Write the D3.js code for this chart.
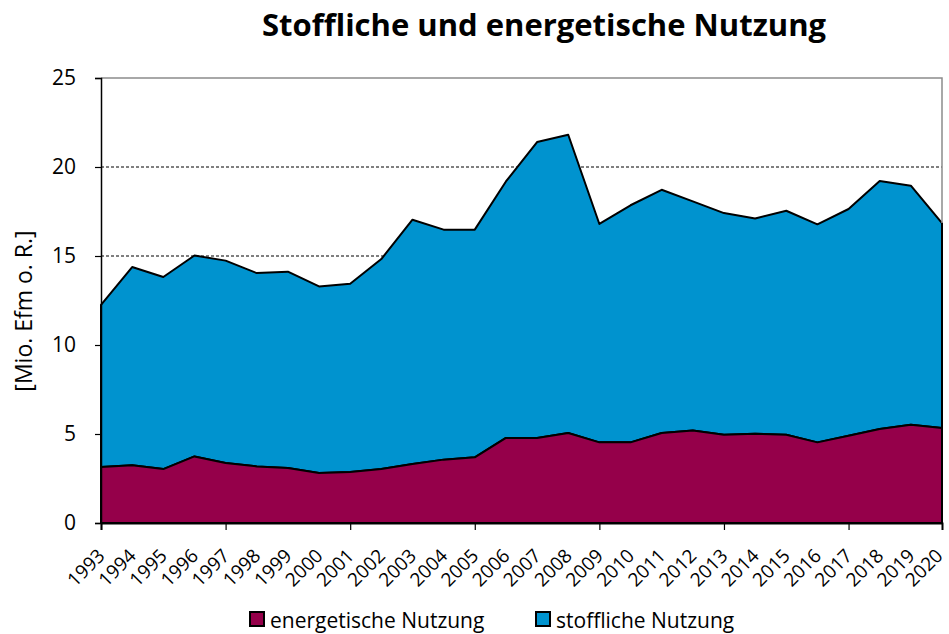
<html>
<head>
<meta http-equiv="Content-Type" content="text/html; charset=UTF-8">
<title>Stoffliche und energetische Nutzung</title>
<style>
body { margin: 0; background: #fff; }
text { font-family: "Open Sans", sans-serif; fill: #000; }
.area_path { stroke: #000; stroke-width: 2; stroke-linejoin: round; }
.grid_line { stroke: #000; stroke-width: 1; stroke-dasharray: 3,2; }
</style>
</head>
<body>
<div id="chart"></div>
<script src="https://d3js.org/d3.v7.min.js"></script>
<script>
// Jahre (Kategorien)
var years = [1993, 1994, 1995, 1996, 1997, 1998, 1999, 2000, 2001, 2002,
             2003, 2004, 2005, 2006, 2007, 2008, 2009, 2010, 2011, 2012,
             2013, 2014, 2015, 2016, 2017, 2018, 2019, 2020];

// Mio. Efm o. R.
var energetisch = [3.15, 3.24, 3.03, 3.74, 3.37, 3.18, 3.09, 2.81, 2.87, 3.03,
                   3.31, 3.56, 3.69, 4.78, 4.78, 5.06, 4.53, 4.53, 5.06, 5.20,
                   4.96, 5.02, 4.96, 4.53, 4.90, 5.28, 5.52, 5.34];
var stofflich   = [9.11, 11.14, 10.79, 11.29, 11.37, 10.86, 11.03, 10.48, 10.57, 11.80,
                   13.73, 12.92, 12.79, 14.41, 16.62, 16.75, 12.27, 13.32, 13.66, 12.87,
                   12.45, 12.09, 12.58, 12.25, 12.74, 13.93, 13.43, 11.51];

var seriesNames = ["energetische Nutzung", "stoffliche Nutzung"];
var seriesColors = ["#95004A", "#0093CF"];
var yTicks = [0, 5, 10, 15, 20, 25];
var majorYears = [1993, 1997, 2001, 2005, 2009, 2013, 2017];
var gridValues = [5, 10, 15, 20];

var width = 949, height = 634;
var plotLeft = 101, plotRight = 942, plotTop = 78, plotBottom = 523;

var svg = d3.select("#chart").append("svg")
    .attr("width", width)
    .attr("height", height);

var x = d3.scaleLinear().domain([1993, 2020]).range([plotLeft, plotRight]);
var y = d3.scaleLinear().domain([0, 25]).range([plotBottom, plotTop]);

var table = years.map(function(yr, i) {
    return { year: yr, e: energetisch[i], s: stofflich[i] };
});
var stacked = d3.stack().keys(["e", "s"])(table);

// Gitternetz
svg.selectAll(".grid_line")
    .data(gridValues)
    .enter()
    .append("line")
    .attr("class", "grid_line")
    .attr("x1", plotLeft).attr("x2", plotRight)
    .attr("y1", function(d){ return y(d); })
    .attr("y2", function(d){ return y(d); });

var area = d3.area()
    .x(function(d){ return x(d.data.year); })
    .y0(function(d){ return y(d[0]); })
    .y1(function(d){ return y(d[1]); });

svg.selectAll(".area_path")
    .data(stacked.slice().reverse())
    .enter()
    .append("path")
    .attr("class", "area_path")
    .attr("fill", function(d){ return seriesColors[d.index]; })
    .attr("d", area);

// Rahmen oben / rechts
var last = stacked[1][stacked[1].length - 1];
svg.append("path")
    .attr("d", "M" + plotLeft + "," + plotTop + "H" + plotRight + "V" + y(last[1]))
    .attr("fill", "none")
    .attr("stroke", "#8c8c8c")
    .attr("stroke-width", 1.5);

// y-Achse
var yAxis = svg.append("g")
    .attr("transform", "translate(" + plotLeft + ",0)")
    .call(d3.axisLeft(y).tickValues(yTicks).tickSize(6).tickPadding(19));
yAxis.select(".domain").attr("stroke", "#000").attr("stroke-width", 1.5);
yAxis.selectAll(".tick line").attr("stroke", "#000").attr("stroke-width", 1.2);
yAxis.selectAll("text")
    .style("font-family", "'Open Sans', sans-serif")
    .style("font-size", "21px")
    .attr("fill", "#000");

// x-Achse: Striche
var xAxis = svg.append("g")
    .attr("transform", "translate(0," + plotBottom + ")")
    .call(d3.axisBottom(x).tickValues(majorYears).tickSize(7).tickFormat(""));
xAxis.select(".domain").attr("stroke", "#000").attr("stroke-width", 2);
xAxis.selectAll(".tick line").attr("stroke", "#000").attr("stroke-width", 1.2);

// x-Achse: Beschriftung (im Bild halten)
svg.append("g").selectAll("text")
    .data(years)
    .enter()
    .append("text")
    .attr("transform", function(d){
        return "translate(" + Math.min(x(d) + 5, width - 5) + ",557) rotate(-45)";
    })
    .attr("text-anchor", "end")
    .style("font-size", "19px")
    .text(function(d){ return d; });

// Titel
svg.append("text")
    .attr("x", 544).attr("y", 36)
    .attr("text-anchor", "middle")
    .style("font-size", "31px")
    .style("font-weight", "bold")
    .text("Stoffliche und energetische Nutzung");

// y-Titel
svg.append("text")
    .attr("transform", "translate(32,311) rotate(-90)")
    .attr("text-anchor", "middle")
    .style("font-size", "23px")
    .text("[Mio. Efm o. R.]");

// Legende
var legendX = [250, 536];
var legend = svg.selectAll(".legend")
    .data(seriesNames)
    .enter()
    .append("g")
    .attr("class", "legend")
    .attr("transform", function(d, i){ return "translate(" + legendX[i] + ",612)"; });
legend.append("rect")
    .attr("width", 14).attr("height", 14)
    .attr("fill", function(d, i){ return seriesColors[i]; })
    .attr("stroke", "#000").attr("stroke-width", 2);
legend.append("text")
    .attr("x", 20).attr("y", 16)
    .style("font-size", "21px")
    .text(function(d){ return d; });
</script>
</body>
</html>
